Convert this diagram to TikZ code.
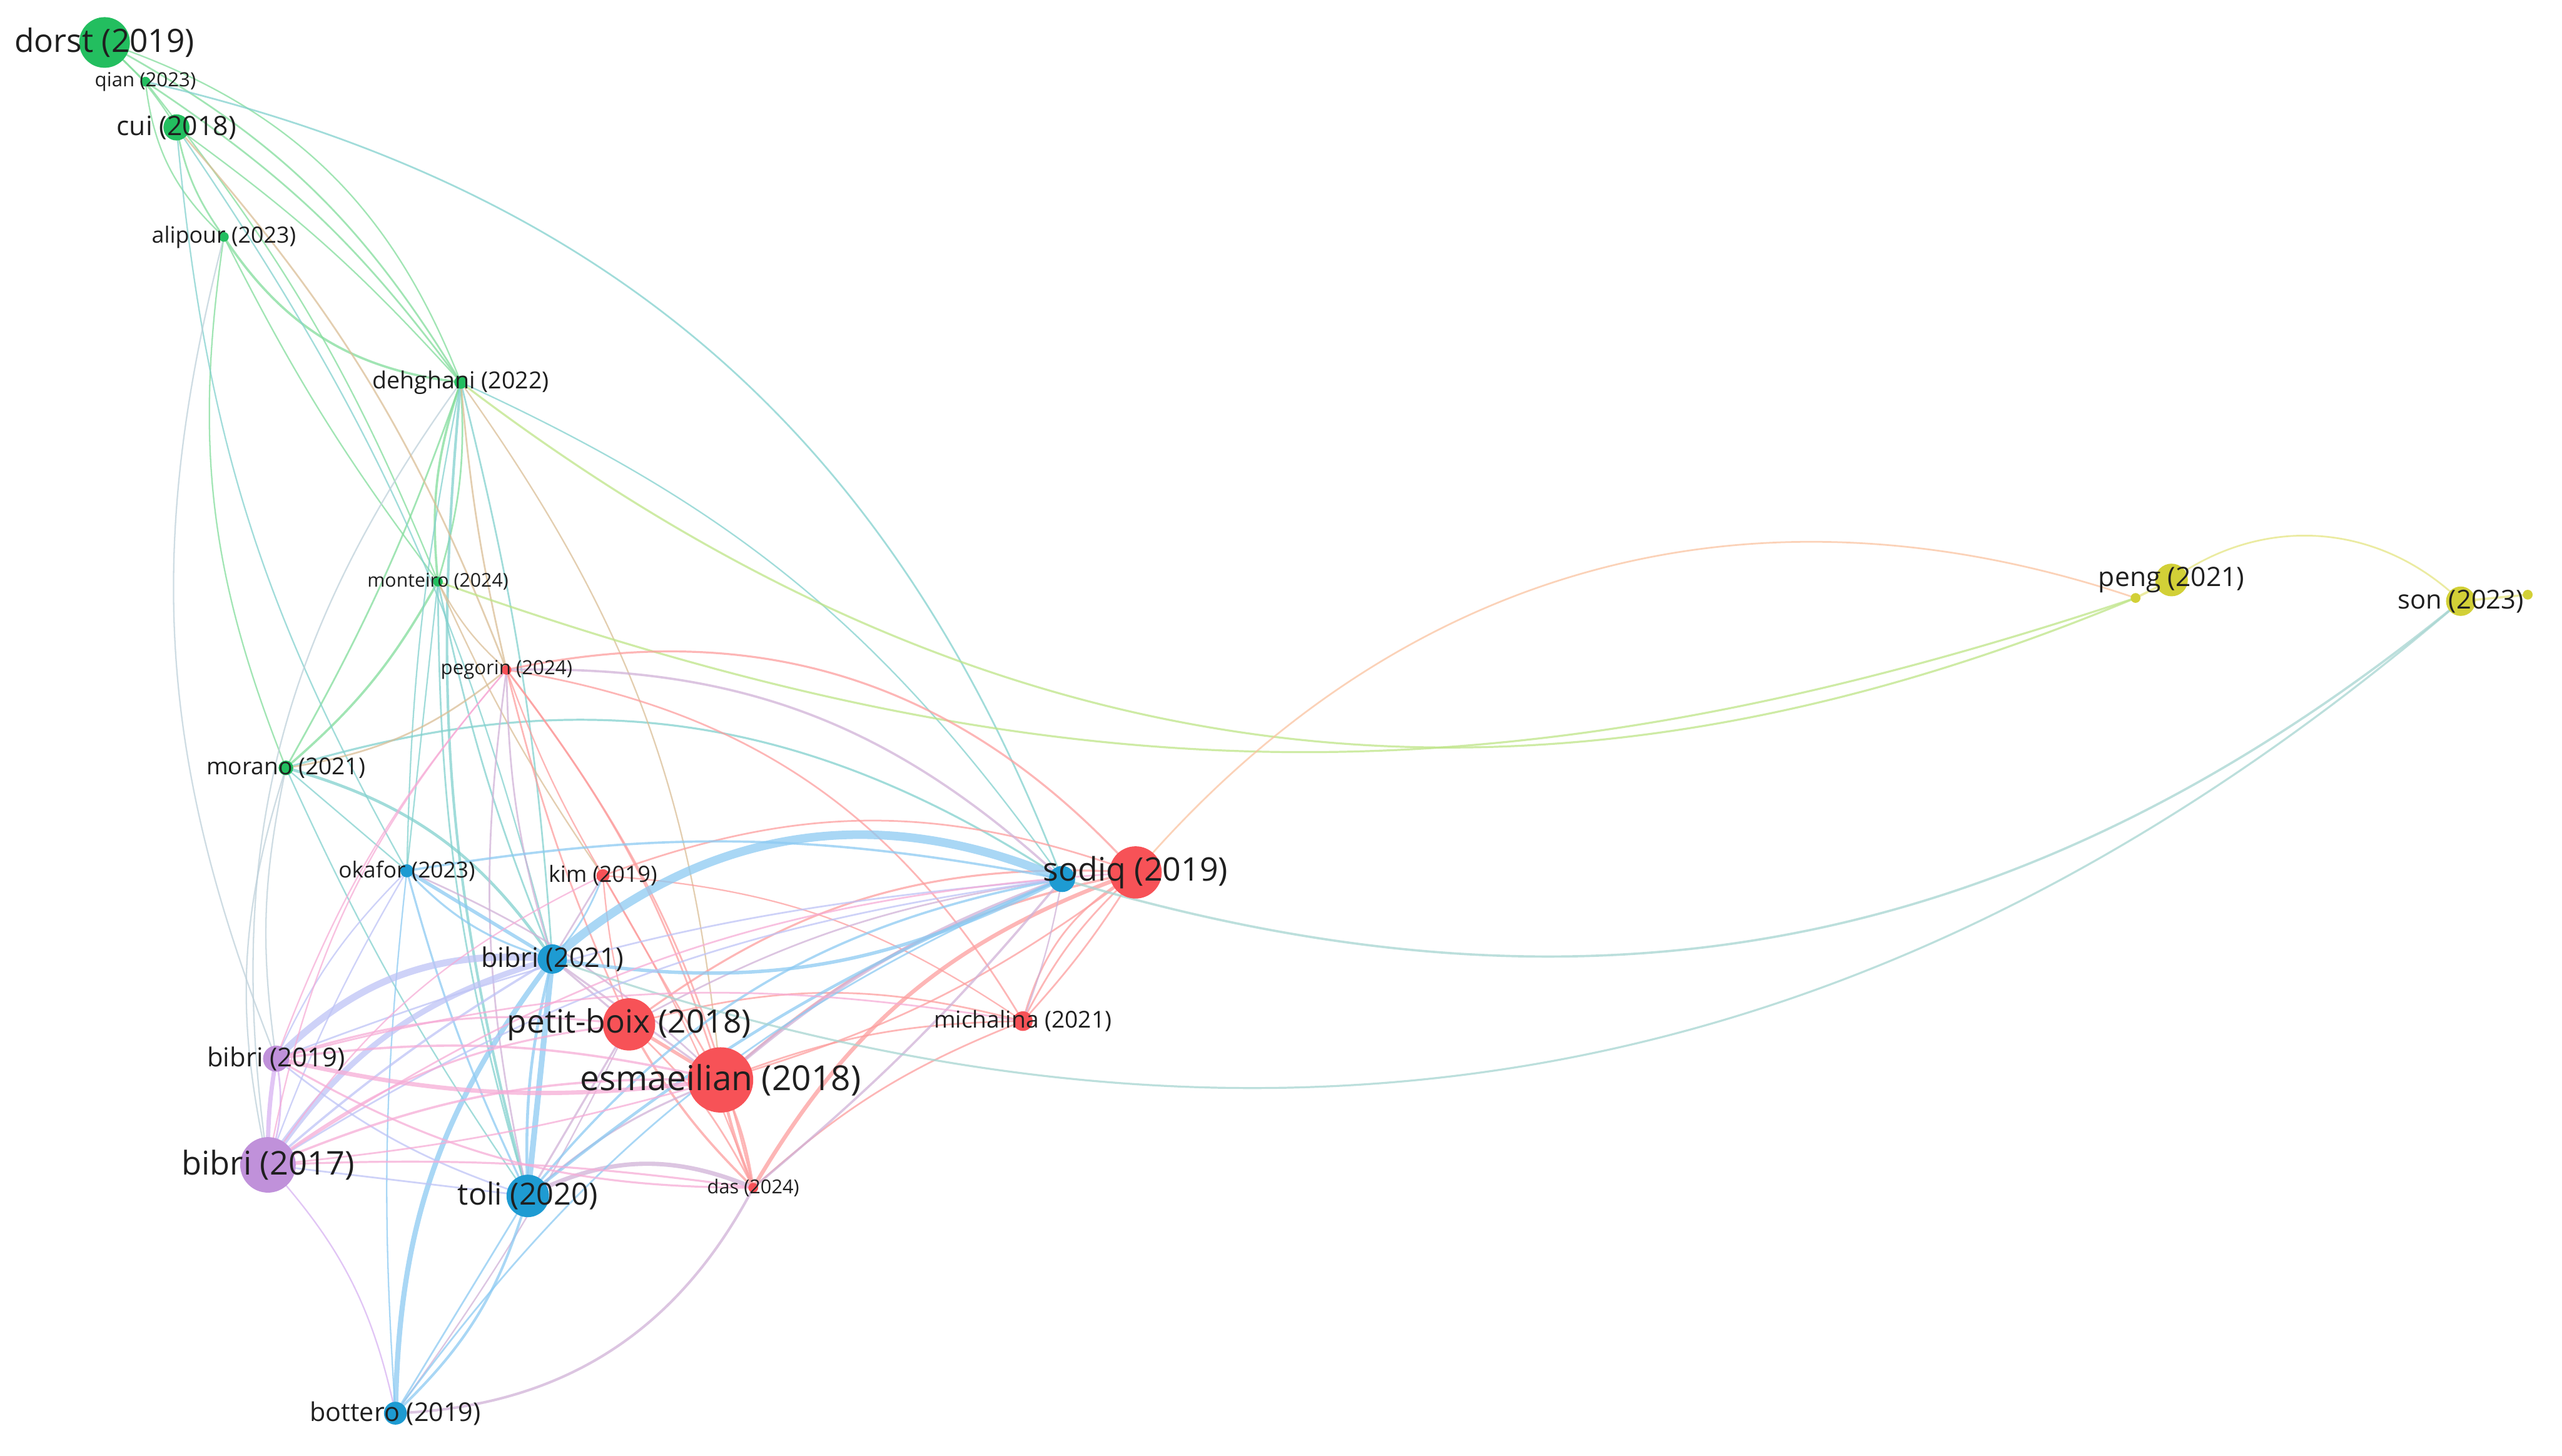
\documentclass[tikz,border=0pt]{standalone}
\usepackage{fontspec}
\setmainfont{Open Sans}
\usetikzlibrary{backgrounds}
\definecolor{nred}{RGB}{247,82,87}
\definecolor{ngreen}{RGB}{35,190,95}
\definecolor{nblue}{RGB}{30,155,210}
\definecolor{npurp}{RGB}{192,145,218}
\definecolor{nyel}{RGB}{210,208,55}
\definecolor{ered}{RGB}{252,158,158}
\definecolor{egreen}{RGB}{130,220,155}
\definecolor{eblue}{RGB}{140,202,242}
\definecolor{egb}{RGB}{130,208,205}
\definecolor{egp}{RGB}{190,208,218}
\definecolor{egr}{RGB}{218,190,150}
\definecolor{egy}{RGB}{190,228,135}
\definecolor{erb}{RGB}{208,178,215}
\definecolor{eby}{RGB}{165,212,208}
\definecolor{ery}{RGB}{250,195,160}
\definecolor{eyel}{RGB}{228,228,130}
\definecolor{epurp}{RGB}{215,178,242}
\definecolor{epb}{RGB}{190,195,245}
\definecolor{epk}{RGB}{246,172,214}
\tikzset{dot/.style={circle,draw=none,inner sep=0pt,minimum size=#1*0.4mm},
  lbl/.style={inner sep=0pt,text=black!88,font=\fontsize{#1}{#1}\selectfont},
  lk/.style={line width=0.5pt,opacity=0.75}}

\begin{document}
\begin{tikzpicture}[x=0.02cm,y=-0.02cm]
\useasboundingbox (0,0) rectangle (1568,891);
% nodes
\node[dot=15.5,fill=ngreen] (dorst) at (64,26) {};
\node[dot=3,fill=ngreen] (qian) at (89,50) {};
\node[dot=8,fill=ngreen] (cui) at (108,78) {};
\node[dot=3,fill=ngreen] (alipour) at (137,145) {};
\node[dot=4,fill=ngreen] (dehghani) at (282,234) {};
\node[dot=3,fill=ngreen] (monteiro) at (268,356) {};
\node[dot=4.5,fill=ngreen] (morano) at (175,470) {};
\node[dot=3,fill=nred] (pegorin) at (310,410) {};
\node[dot=4,fill=nred] (kim) at (369,536) {};
\node[dot=8,fill=nblue] (sodb) at (650,538) {};
\node[dot=16,fill=nred] (sodq) at (695,534) {};
\node[dot=6,fill=nred] (michalina) at (626,625) {};
\node[dot=4,fill=nblue] (okafor) at (249,533) {};
\node[dot=9,fill=nblue] (bibri21) at (338,587) {};
\node[dot=16,fill=nred] (petit) at (385,627) {};
\node[dot=20,fill=nred] (esm) at (441,661) {};
\node[dot=8,fill=npurp] (bibri19) at (169,648) {};
\node[dot=17,fill=npurp] (bibri17) at (164,713) {};
\node[dot=13,fill=nblue] (toli) at (323,732) {};
\node[dot=3,fill=nred] (das) at (461,727) {};
\node[dot=7,fill=nblue] (bottero) at (242,865) {};
\node[dot=10,fill=nyel] (peng) at (1329,355) {};
\node[dot=3,fill=nyel] (pengb) at (1307,366) {};
\node[dot=9,fill=nyel] (son) at (1506,368) {};
\node[dot=3,fill=nyel] (sonb) at (1547,364) {};
% labels
\node[lbl=11.2] (dorst-l) at (dorst) {dorst (2019)};
\node[lbl=6.8] (qian-l) at (qian) {qian (2023)};
\node[lbl=9.3] (cui-l) at (cui) {cui (2018)};
\node[lbl=7.8] (alipour-l) at (alipour) {alipour (2023)};
\node[lbl=8.2] (dehghani-l) at (dehghani) {dehghani (2022)};
\node[lbl=6.6] (monteiro-l) at (monteiro) {monteiro (2024)};
\node[lbl=8.1] (morano-l) at (morano) {morano (2021)};
\node[lbl=6.8] (pegorin-l) at (pegorin) {pegorin (2024)};
\node[lbl=7.8] (kim-l) at (kim) {kim (2019)};
\node[lbl=11.3] (sodq-l) at (sodq) {sodiq (2019)};
\node[lbl=8.1] (michalina-l) at (michalina) {michalina (2021)};
\node[lbl=7.7] (okafor-l) at (okafor) {okafor (2023)};
\node[lbl=9.4] (bibri21-l) at (bibri21) {bibri (2021)};
\node[lbl=11.2] (petit-l) at (petit) {petit-boix (2018)};
\node[lbl=12] (esm-l) at (esm) {esmaeilian (2018)};
\node[lbl=9.1] (bibri19-l) at (bibri19) {bibri (2019)};
\node[lbl=11.4] (bibri17-l) at (bibri17) {bibri (2017)};
\node[lbl=10.6] (toli-l) at (toli) {toli (2020)};
\node[lbl=6.7] (das-l) at (das) {das (2024)};
\node[lbl=9] (bottero-l) at (bottero) {bottero (2019)};
\node[lbl=9.3] (peng-l) at (peng) {peng (2021)};
\node[lbl=9.1] (son-l) at (son) {son (2023)};
% links
\begin{pgfonlayer}{background}
\foreach \ea/\eb/\bd/\lw in {dorst/qian/0/0.6, dorst/cui/-8/0.5, dorst/dehghani/-15/0.6, dorst/dehghani/-25/0.5,
  qian/dehghani/-10/0.6, cui/dehghani/-6/0.5, qian/alipour/20/0.5, cui/alipour/12/0.6, alipour/dehghani/25/0.8,
  alipour/monteiro/5/0.5, alipour/morano/15/0.5, qian/monteiro/-8/0.5, dehghani/monteiro/12/0.8,
  dehghani/monteiro/-10/0.6, dehghani/morano/-5/0.6, monteiro/morano/-10/0.8}
  \draw[lk,egreen,line width=\lw pt] (\ea.center) to[bend right=\bd] (\eb.center);
\foreach \ea/\eb/\bd/\lw in {qian/sodb/-28/0.6, cui/bibri21/-10/0.5, cui/okafor/12/0.5, dehghani/okafor/5/0.5,
  dehghani/bibri21/-5/0.6, dehghani/toli/10/0.9, monteiro/bibri21/5/0.6, monteiro/toli/8/0.6, monteiro/okafor/0/0.5,
  morano/sodb/-25/0.7, morano/bibri21/-20/1.0, morano/okafor/0/0.5, morano/toli/5/0.5, dehghani/sodb/-15/0.5}
  \draw[lk,egb,line width=\lw pt] (\ea.center) to[bend right=\bd] (\eb.center);
\foreach \ea/\eb/\bd/\lw in {alipour/bibri19/18/0.5, morano/bibri17/15/0.5, dehghani/bibri17/22/0.5, morano/bibri19/10/0.5}
  \draw[lk,egp,line width=\lw pt] (\ea.center) to[bend right=\bd] (\eb.center);
\foreach \ea/\eb/\bd/\lw in {cui/pegorin/-10/0.6, morano/pegorin/15/0.6, dehghani/pegorin/4/0.6, monteiro/pegorin/10/0.5,
  dehghani/esm/-15/0.5, monteiro/kim/5/0.5}
  \draw[lk,egr,line width=\lw pt] (\ea.center) to[bend right=\bd] (\eb.center);
\foreach \ea/\eb/\bd/\lw in {dehghani/pengb/30/0.7, monteiro/pengb/19/0.7}
  \draw[lk,egy,line width=\lw pt] (\ea.center) to[bend right=\bd] (\eb.center);
\foreach \ea/\eb/\bd/\lw in {pegorin/sodq/-30/0.7, pegorin/michalina/-25/0.6, pegorin/esm/-10/0.6, pegorin/petit/5/0.6,
  pegorin/das/-12/0.6, pegorin/kim/5/0.5, kim/esm/0/0.6, kim/petit/5/0.5, kim/das/-5/0.5, kim/sodq/-20/0.6,
  kim/michalina/-15/0.5, esm/petit/0/1.2, esm/das/5/1.0, petit/das/8/0.8, esm/sodq/-15/0.8, esm/sodq/10/0.6,
  petit/sodq/-20/0.7, esm/michalina/-10/0.6, petit/michalina/-15/0.6, sodq/das/20/1.4, sodq/michalina/10/0.6,
  sodq/michalina/-5/0.6, sodq/michalina/22/0.6, michalina/das/10/0.6, petit/das/-10/0.6, esm/das/-8/0.8}
  \draw[lk,ered,line width=\lw pt] (\ea.center) to[bend right=\bd] (\eb.center);
\foreach \ea/\eb/\bd/\lw in {pegorin/sodb/-22/0.8, pegorin/bibri21/8/0.6, pegorin/toli/10/0.6, esm/sodb/-10/1.2,
  esm/toli/10/0.7, esm/bibri21/0/0.7, petit/toli/0/0.7, petit/bibri21/0/0.7, petit/sodb/-10/0.6, toli/das/-25/1.5,
  das/bottero/-30/0.9, das/sodb/5/0.8, kim/bibri21/0/0.6, michalina/sodb/5/0.5, okafor/esm/-10/0.6, bottero/petit/5/0.5}
  \draw[lk,erb,line width=\lw pt] (\ea.center) to[bend right=\bd] (\eb.center);
\foreach \ea/\eb/\bd/\lw in {bibri21/sodb/-32/3.0, bibri21/sodb/18/1.2, toli/sodb/-8/1.0, toli/sodb/-20/0.8,
  okafor/sodb/-10/0.8, bottero/bibri21/-18/1.8, bottero/toli/15/0.9, bottero/toli/0/0.6, bottero/okafor/-5/0.5,
  bibri21/toli/0/2.0, bibri21/toli/8/1.0, bibri21/okafor/0/1.2, bibri21/okafor/-15/0.7, okafor/toli/5/0.7,
  bibri21/kim/10/0.6, bottero/sodb/-15/0.6}
  \draw[lk,eblue,line width=\lw pt] (\ea.center) to[bend right=\bd] (\eb.center);
\foreach \ea/\eb/\bd/\lw in {bibri21/son/30/0.7, sodb/son/28/0.8}
  \draw[lk,eby,line width=\lw pt] (\ea.center) to[bend right=\bd] (\eb.center);
\draw[lk,ery,line width=0.6pt] (sodq.center) to[bend right=-34] (pengb.center);
\foreach \ea/\eb/\bd/\lw in {peng/son/-40/0.6, pengb/peng/0/0.8, son/sonb/0/0.8}
  \draw[lk,eyel,line width=\lw pt] (\ea.center) to[bend right=\bd] (\eb.center);
\foreach \ea/\eb/\bd/\lw in {bibri19/bibri17/5/1.5, bibri17/bottero/-15/0.5, bibri19/bibri17/-15/0.6}
  \draw[lk,epurp,line width=\lw pt] (\ea.center) to[bend right=\bd] (\eb.center);
\foreach \ea/\eb/\bd/\lw in {bibri19/bibri21/-25/2.4, bibri17/bibri21/-20/2.0, bibri17/bibri21/-5/0.8,
  bibri19/toli/10/0.6, bibri17/toli/0/0.6, bibri19/okafor/-10/0.5, bibri17/okafor/-5/0.5, bibri19/sodb/-8/0.6,
  bibri17/sodb/-12/0.6}
  \draw[lk,epb,line width=\lw pt] (\ea.center) to[bend right=\bd] (\eb.center);
\foreach \ea/\eb/\bd/\lw in {bibri19/esm/10/1.5, bibri19/esm/-10/0.8, bibri19/petit/-12/0.7, bibri17/esm/-12/0.8,
  bibri17/petit/-15/0.7, bibri17/das/-5/0.7, bibri19/das/15/0.7, bibri17/sodq/-15/0.6, bibri19/michalina/-12/0.6,
  bibri17/kim/-15/0.5, bibri19/pegorin/-10/0.5, bibri17/pegorin/-15/0.5, bibri17/esm/5/0.6}
  \draw[lk,epk,line width=\lw pt] (\ea.center) to[bend right=\bd] (\eb.center);
\end{pgfonlayer}
\end{tikzpicture}
\end{document}
